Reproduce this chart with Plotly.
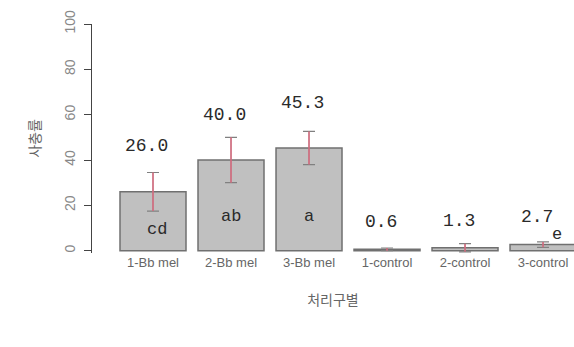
import plotly.graph_objects as go

categories = ["1-Bb mel", "2-Bb mel", "3-Bb mel", "1-control", "2-control", "3-control"]
means = [26.0, 40.0, 45.3, 0.6, 1.3, 2.7]
errors = [8.5, 10.0, 7.3, 0.6, 1.8, 1.2]
value_labels = ["26.0", "40.0", "45.3", "0.6", "1.3", "2.7"]
letters = ["cd", "ab", "a", "", "", "e"]
y_ticks = [0, 20, 40, 60, 80, 100]

fig = go.Figure()
fig.add_trace(go.Bar(
    x=list(range(len(categories))), y=means,
    marker=dict(color="#c0c0c0", line=dict(color="#707070", width=1.5)),
    showlegend=False, hoverinfo="skip",
))
# caps (gray)
fig.add_trace(go.Scatter(
    x=list(range(len(categories))), y=means, mode="markers",
    marker=dict(size=1, color="rgba(0,0,0,0)"),
    error_y=dict(type="data", array=errors, color="#808080", thickness=1.2, width=6),
    showlegend=False, hoverinfo="skip",
))
# vertical red lines
fig.add_trace(go.Scatter(
    x=list(range(len(categories))), y=means, mode="markers",
    marker=dict(size=1, color="rgba(0,0,0,0)"),
    error_y=dict(type="data", array=errors, color="#e8667e", thickness=1.3, width=0),
    showlegend=False, hoverinfo="skip",
))

mono = dict(family="Liberation Mono, Courier New, monospace", size=18, color="#2a2a2a")
for i, (c, m, lab) in enumerate(zip(categories, means, value_labels)):
    off = 20 if "Bb" in c else 12
    fig.add_annotation(x=i - 0.08, y=m + off, text=lab, showarrow=False,
                       font=mono, xanchor="center", yanchor="middle")

letter_y = [9.3, 15, 15, 0, 0, 7]
letter_dx = [0.05, 0, 0, 0, 0, 0.18]
for i, (lt, ly, dx) in enumerate(zip(letters, letter_y, letter_dx)):
    if lt:
        fig.add_annotation(x=i + dx, y=ly, text=lt, showarrow=False,
                           font=dict(family="Liberation Mono, Courier New, monospace", size=17, color="#2a2a2a"),
                           xanchor="center", yanchor="middle")

fig.update_layout(
    width=574, height=347,
    margin=dict(l=92, r=0, t=24, b=94),
    paper_bgcolor="white", plot_bgcolor="white",
    bargap=0.154,
    font=dict(family="Liberation Sans, Arial", color="#666666"),
    xaxis=dict(
        tickmode="array", tickvals=list(range(len(categories))), ticktext=categories,
        range=[-0.782, 5.397], showline=False, showgrid=False, zeroline=False,
        ticks="", tickfont=dict(size=13, color="#666666"),
        title=dict(text="처리구별", font=dict(family="Noto Sans CJK KR", size=14, color="#666666"), standoff=26),
    ),
    yaxis=dict(
        range=[-1, 100], tickvals=y_ticks, showgrid=False, zeroline=False,
        showline=True, linecolor="#444444", linewidth=1.2,
        ticks="outside", ticklen=7, tickcolor="#444444", tickwidth=1.2,
        tickangle=-90, tickfont=dict(size=14, color="#888888"), ticklabelstandoff=3,
        title=dict(text="사충률", font=dict(family="Noto Sans CJK KR", size=14, color="#666666"), standoff=18),
    ),
)

fig.write_html("out.html")
